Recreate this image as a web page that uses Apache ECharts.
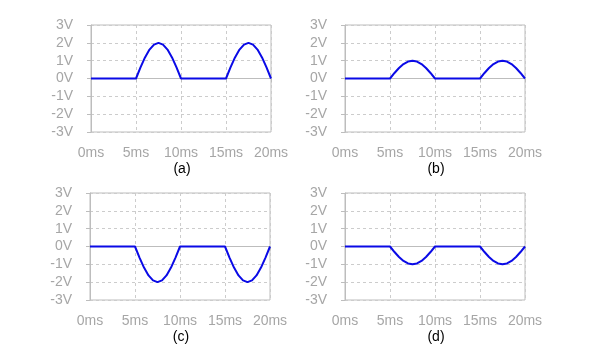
<!DOCTYPE html>
<html><head><meta charset="utf-8">
<script src="https://cdn.jsdelivr.net/npm/echarts@6/dist/echarts.min.js"></script>
<style>html,body{margin:0;padding:0;background:#fff}#c{width:600px;height:360px}</style>
</head><body><div id="c"></div>
<script>
const timesMs = [0, 5, 5.5, 6, 6.5, 7, 7.5, 8, 8.5, 9, 9.5, 10, 15, 15.5, 16, 16.5, 17, 17.5, 18, 18.5, 19, 19.5, 20];
const seriesA = [0, 0, 0.62, 1.18, 1.62, 1.9, 2.0, 1.9, 1.62, 1.18, 0.62, 0, 0, 0.62, 1.18, 1.62, 1.9, 2.0, 1.9, 1.62, 1.18, 0.62, 0];
const seriesB = [0, 0, 0.31, 0.59, 0.81, 0.95, 1.0, 0.95, 0.81, 0.59, 0.31, 0, 0, 0.31, 0.59, 0.81, 0.95, 1.0, 0.95, 0.81, 0.59, 0.31, 0];
const seriesC = [0, 0, -0.62, -1.18, -1.62, -1.9, -2.0, -1.9, -1.62, -1.18, -0.62, 0, 0, -0.62, -1.18, -1.62, -1.9, -2.0, -1.9, -1.62, -1.18, -0.62, 0];
const seriesD = [0, 0, -0.31, -0.59, -0.81, -0.95, -1.0, -0.95, -0.81, -0.59, -0.31, 0, 0, -0.31, -0.59, -0.81, -0.95, -1.0, -0.95, -0.81, -0.59, -0.31, 0];
const captions = ['(a)', '(b)', '(c)', '(d)'];
const xTickFmt = '{value}ms';
const yTickFmt = '{value}V';

const allSeries = [seriesA, seriesB, seriesC, seriesD];
const grids = [
  {left: 91, top: 25, width: 180, height: 107},
  {left: 345, top: 25, width: 180, height: 107},
  {left: 90, top: 193, width: 180, height: 107},
  {left: 345, top: 193, width: 180, height: 107}
];
const axisColor = '#bdbdbd';
const labelColor = '#a6a6a6';
const font = 'Liberation Sans, Arial, sans-serif';

const option = {
  animation: false,
  grid: grids.map(g => Object.assign({show: true, borderColor: axisColor, borderWidth: 1, backgroundColor: 'transparent'}, g)),
  title: grids.map((g, i) => ({
    text: captions[i], left: g.left + g.width / 2 - 4, top: g.top + g.height + 25, textAlign: 'center',
    textStyle: {fontFamily: font, fontSize: 14, fontWeight: 'normal', color: '#000'}
  })),
  xAxis: grids.map((g, i) => ({
    gridIndex: i, type: 'value', min: 0, max: 20, interval: 5,
    axisLine: {show: true, lineStyle: {color: axisColor, width: 1}},
    axisTick: {show: true, inside: false, length: 4, lineStyle: {color: axisColor}},
    axisLabel: {formatter: xTickFmt, color: labelColor, fontFamily: font, fontSize: 14, margin: 14},
    splitLine: {show: true, lineStyle: {color: '#cccccc', type: [3, 3]}}
  })),
  yAxis: grids.map((g, i) => ({
    gridIndex: i, type: 'value', min: -3, max: 3, interval: 1,
    axisLine: {show: true, lineStyle: {color: axisColor, width: 1}},
    axisTick: {show: true, inside: false, length: 4, lineStyle: {color: axisColor}},
    axisLabel: {formatter: yTickFmt, color: labelColor, fontFamily: font, fontSize: 14, margin: 18},
    splitLine: {show: true, lineStyle: {color: '#cccccc', type: [3, 3]}}
  })),
  series: allSeries.map((vals, i) => ({
    type: 'line', xAxisIndex: i, yAxisIndex: i, showSymbol: false, smooth: false,
    lineStyle: {color: '#0a0ae6', width: 2},
    data: timesMs.map((t, k) => [t, vals[k]])
  }))
};
echarts.init(document.getElementById('c')).setOption(option);
</script></body></html>
